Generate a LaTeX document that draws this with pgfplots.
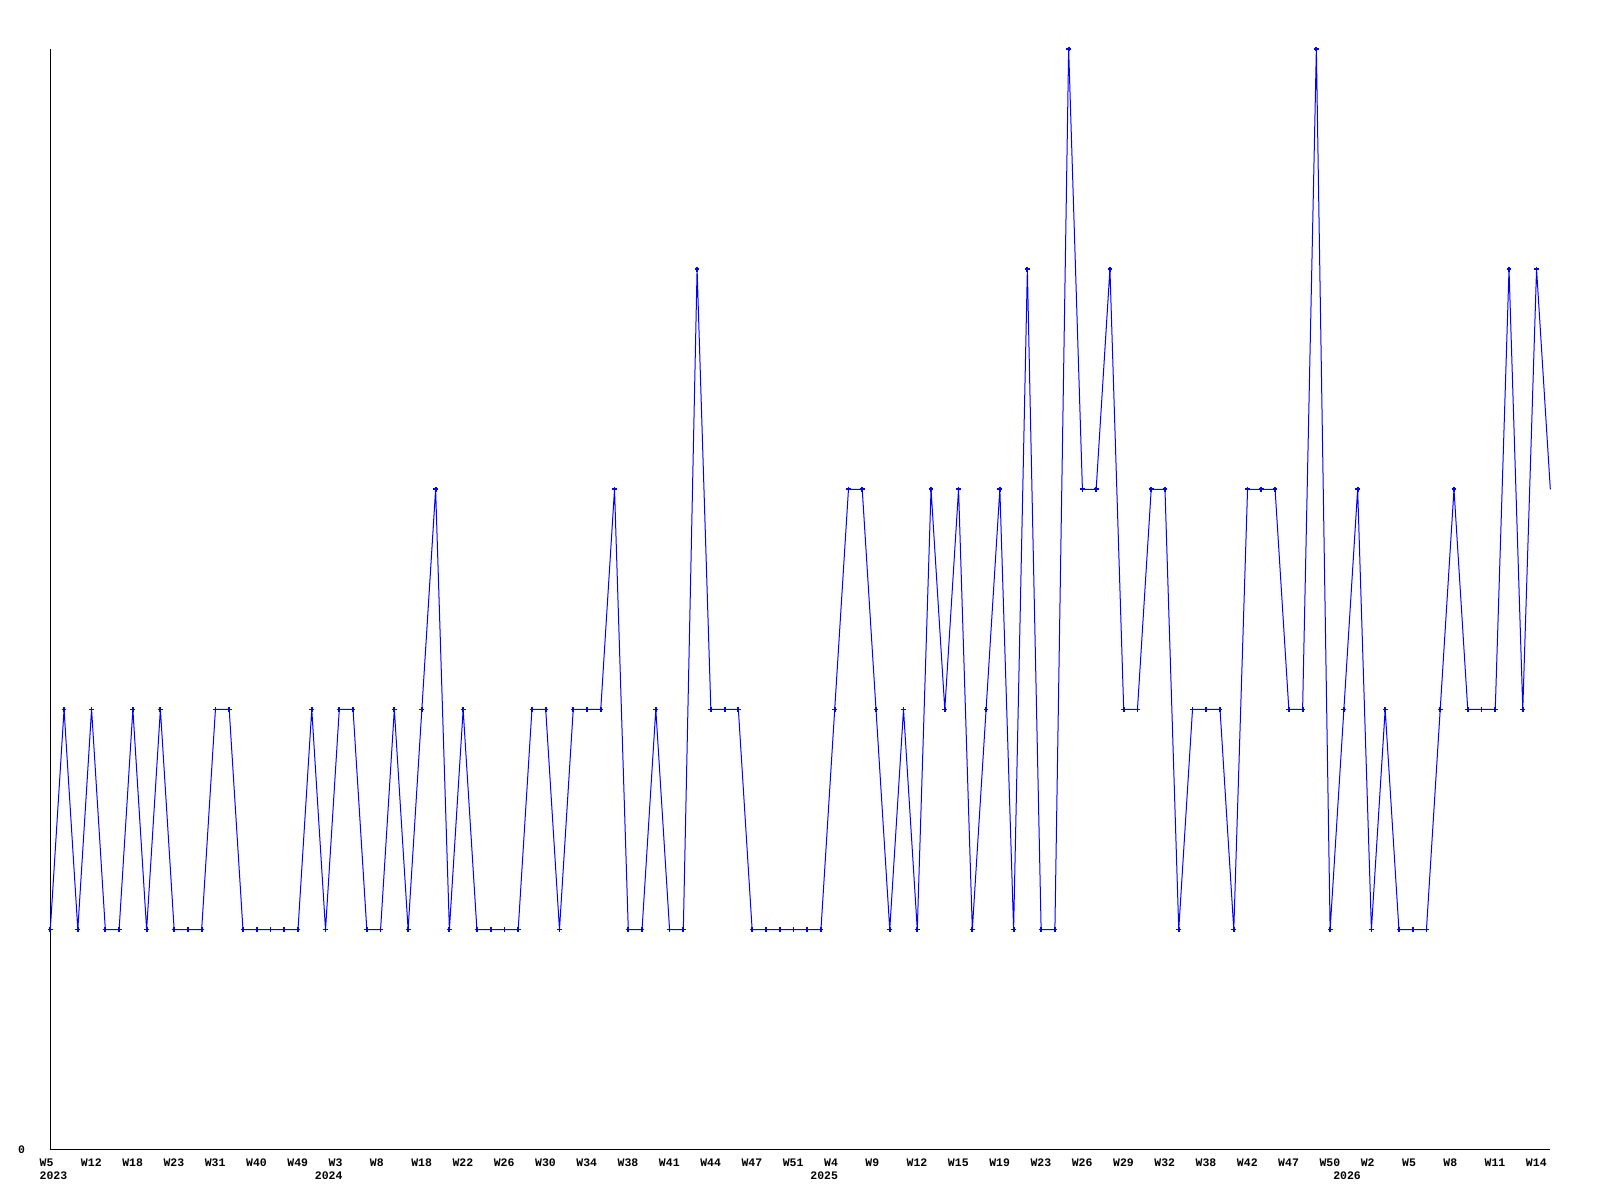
\documentclass[border=0pt]{standalone}
\usepackage{fontspec}
\usepackage{pgfplots}
\pgfplotsset{compat=1.18}
\newfontfamily\lblfont{Liberation Mono}[BoldFont={* Bold}]
\definecolor{lineblue}{RGB}{0,0,255}
\begin{document}
\begin{tikzpicture}
\begin{axis}[
  scale only axis,
  width=1500pt, height=1100.7pt,
  xmin=0, xmax=109, ymin=0, ymax=5,
  axis lines=left,
  axis line style={-, black, line width=1pt},
  clip=false,
  major tick length=0pt,
  tick style={draw=none},
  xtick={0,3,...,108},
  xticklabels={W5,W12,W18,W23,W31,W40,W49,W3,W8,W18,W22,W26,W30,W34,W38,W41,W44,W47,W51,W4,W9,W12,W15,W19,W23,W26,W29,W32,W38,W42,W47,W50,W2,W5,W8,W11,W14},
  xticklabel style={anchor=north west, inner sep=0pt, xshift=-10.8pt, yshift=-9.3pt, font=\fontsize{11.5}{13}\lblfont\bfseries},
  extra x ticks={0,20,56,94},
  extra x tick labels={2023,2024,2025,2026},
  extra x tick style={xticklabel style={yshift=-13pt}},
  ytick={0},
  yticklabels={0},
  yticklabel style={anchor=east, inner sep=0pt, xshift=-25pt, font=\fontsize{11.5}{13}\lblfont\bfseries},
]
\addplot[color=lineblue, line width=1pt, mark=+, mark size=2.4pt, mark indices={1,...,109}, mark options={line width=1.8pt}] coordinates {
(0,1)(1,2)(2,1)(3,2)(4,1)(5,1)(6,2)(7,1)(8,2)(9,1)
(10,1)(11,1)(12,2)(13,2)(14,1)(15,1)(16,1)(17,1)(18,1)(19,2)
(20,1)(21,2)(22,2)(23,1)(24,1)(25,2)(26,1)(27,2)(28,3)(29,1)
(30,2)(31,1)(32,1)(33,1)(34,1)(35,2)(36,2)(37,1)(38,2)(39,2)
(40,2)(41,3)(42,1)(43,1)(44,2)(45,1)(46,1)(47,4)(48,2)(49,2)
(50,2)(51,1)(52,1)(53,1)(54,1)(55,1)(56,1)(57,2)(58,3)(59,3)
(60,2)(61,1)(62,2)(63,1)(64,3)(65,2)(66,3)(67,1)(68,2)(69,3)
(70,1)(71,4)(72,1)(73,1)(74,5)(75,3)(76,3)(77,4)(78,2)(79,2)
(80,3)(81,3)(82,1)(83,2)(84,2)(85,2)(86,1)(87,3)(88,3)(89,3)
(90,2)(91,2)(92,5)(93,1)(94,2)(95,3)(96,1)(97,2)(98,1)(99,1)
(100,1)(101,2)(102,3)(103,2)(104,2)(105,2)(106,4)(107,2)(108,4)(109,3)
};
\end{axis}
\pgfresetboundingbox
\path[use as bounding box] ([shift={(-50.3pt,-50.3pt)}]current axis.south west) rectangle ([shift={(49.7pt,49pt)}]current axis.north east);
\end{tikzpicture}
\end{document}
